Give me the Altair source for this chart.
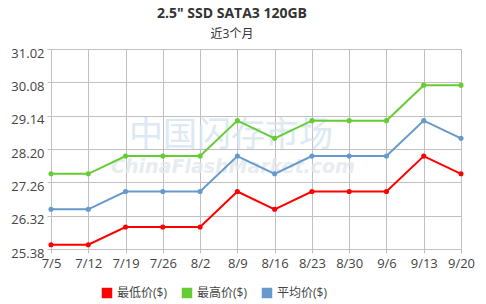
import altair as alt
import pandas as pd

dates = ["7/5", "7/12", "7/19", "7/26", "8/2", "8/9", "8/16", "8/23", "8/30", "9/6", "9/13", "9/20"]
low = [25.5, 25.5, 26.0, 26.0, 26.0, 27.0, 26.5, 27.0, 27.0, 27.0, 28.0, 27.5]
high = [27.5, 27.5, 28.0, 28.0, 28.0, 29.0, 28.5, 29.0, 29.0, 29.0, 30.0, 30.0]
avg = [26.5, 26.5, 27.0, 27.0, 27.0, 28.0, 27.5, 28.0, 28.0, 28.0, 29.0, 28.5]
series_names = ["最低价($)", "最高价($)", "平均价($)"]
series_colors = ["#ff0000", "#66cc33", "#6699cc"]
y_ticks = [25.38, 26.32, 27.26, 28.20, 29.14, 30.08, 31.02]

rows = []
for name, vals in zip(series_names, [low, high, avg]):
    for d, v in zip(dates, vals):
        rows.append({"date": d, "series": name, "price": v})
df = pd.DataFrame(rows)

FONT = "Open Sans, Noto Sans CJK SC, sans-serif"

x = alt.X("date:O", sort=dates, scale=alt.Scale(type="point", padding=0),
          axis=alt.Axis(title=None, labelAngle=0, grid=True, gridColor="#c0c0c0",
                        domain=False, ticks=True, tickColor="#c0c0c0", tickSize=4,
                        labelPadding=4, labelFontSize=13, labelColor="#444",
                        labelFont=FONT))
y = alt.Y("price:Q", scale=alt.Scale(domain=[25.38, 31.02], nice=False, zero=False),
          axis=alt.Axis(title=None, values=y_ticks, format=".2f", grid=True,
                        gridColor="#c0c0c0", domain=False, tickColor="#c0c0c0",
                        tickSize=4, labelPadding=3, labelFontSize=13,
                        labelColor="#444", labelFont=FONT, labelOffset=4))
color = alt.Color("series:N", scale=alt.Scale(domain=series_names, range=series_colors),
                  legend=alt.Legend(title=None, orient="none", legendX=50, legendY=238,
                                    direction="horizontal", symbolType="square",
                                    symbolSize=110, symbolStrokeWidth=0,
                                    labelFontSize=12, labelColor="#444", labelFont=FONT,
                                    columnPadding=14, symbolOpacity=1))

wm = pd.DataFrame({"t": ["中国闪存市场"]})
wm2 = pd.DataFrame({"t": ["ChinaFlashMarket.com"]})
water1 = alt.Chart(wm).mark_text(fontSize=34, color="#d5e5f1", font="Noto Sans CJK SC",
                                 opacity=0.8).encode(
    text="t:N", x=alt.value(180), y=alt.value(87))
water2 = alt.Chart(wm2).mark_text(fontSize=19, color="#e2e8ee", font="DejaVu Sans",
                                  fontStyle="italic", fontWeight="bold", opacity=0.8).encode(
    text="t:N", x=alt.value(182), y=alt.value(118))

base = alt.Chart(df)
lines = base.mark_line(strokeWidth=2).encode(x=x, y=y, color=color)
pts = base.mark_circle(size=26, opacity=1).encode(
    x=x, y=y,
    color=alt.Color("series:N", scale=alt.Scale(domain=series_names, range=series_colors), legend=None))

chart = alt.layer(water1, water2, lines, pts).properties(
    width=410, height=200,
    autosize=alt.AutoSizeParams(type="none"),
    padding={"left": 51, "top": 49, "right": 25, "bottom": 55},
    title=alt.TitleParams(text='2.5" SSD SATA3 120GB', subtitle="近3个月",
                          fontSize=14, fontWeight="bold", color="#333", font=FONT,
                          subtitleFontSize=12, subtitleColor="#333", subtitleFont=FONT,
                          subtitlePadding=8, anchor="middle", dx=-24, offset=7),
).configure_view(stroke=None).configure(background="white")

chart.save("out.html", embed_options={"renderer": "svg", "actions": False})
